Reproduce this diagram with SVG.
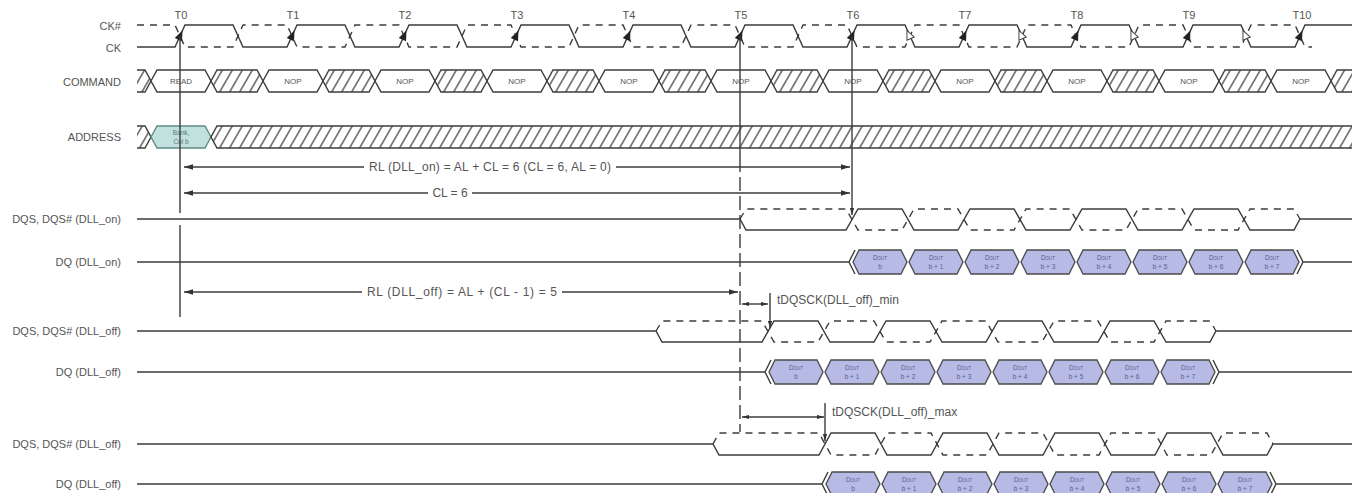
<svg xmlns="http://www.w3.org/2000/svg" xmlns:xlink="http://www.w3.org/1999/xlink" width="1357" height="493" viewBox="0 0 1357 493">
<style>
.ln{stroke:#3c3c3c;stroke-width:1.4;fill:none}
.dash{stroke-dasharray:7 6}
.vdash{stroke-dasharray:14 5}
.t{font-family:"Liberation Sans",Arial,sans-serif;fill:#555}
.lbl{font-size:11px;text-anchor:end}
.tl{font-size:11px;text-anchor:middle}
.bt{font-size:8px;text-anchor:middle}
.dim{font-size:12px}
.box{fill:#fff;stroke:#3c3c3c;stroke-width:1.4}
.hatch{fill:url(#hatch);stroke:#3c3c3c;stroke-width:1.4}
.hfill{fill:url(#hatch);stroke:none}
.abox{fill:#c2e0dd;stroke:#5f8c88;stroke-width:1.4}
.at{font-size:6.5px;text-anchor:middle;fill:#4e7f7b}
.eye{fill:#b6bae5;stroke:#4a4a4a;stroke-width:1.3}
.et{font-size:6.5px;text-anchor:middle;fill:#5b6090}
.bg{fill:#fff}
</style>
<defs>
<pattern id="hatch" patternUnits="userSpaceOnUse" width="10" height="10" patternTransform="skewX(-30)">
<line x1="5" y1="0" x2="5" y2="10" stroke="#3c3c3c" stroke-width="1.4"/>
</pattern>
<marker id="ah" viewBox="0 0 10 6" refX="10" refY="3" markerWidth="9" markerHeight="6" markerUnits="userSpaceOnUse" orient="auto-start-reverse">
<path d="M0,0 L10,3 L0,6 z" fill="#333"/>
</marker>
<marker id="ahs" viewBox="0 0 10 6" refX="10" refY="3" markerWidth="7" markerHeight="5" markerUnits="userSpaceOnUse" orient="auto-start-reverse">
<path d="M0,0 L10,3 L0,6 z" fill="#333"/>
</marker>
<polygon id="cbox" class="box" points="0,0 6,-11 54,-11 60,0 54,11 6,11"/>
<polygon id="hbox" class="hatch" points="0,0 6,-11 46,-11 52,0 46,11 6,11"/>
<polygon id="eye" class="eye" points="1,0 7,-12 49,-12 55,0 49,12 7,12"/>
<path id="tb" d="M0,-6 L4,4 L-4,4 Z" fill="#222"/>
<path id="tw" d="M0,-5 L4,4 L-4,4 Z" fill="#fff" stroke="#444" stroke-width="1"/>
</defs>
<rect width="1357" height="493" fill="#fff"/>

<g id="labels">
<text class="t lbl" x="121" y="30">CK#</text>
<text class="t lbl" x="121" y="52">CK</text>
<text class="t lbl" x="121" y="86">COMMAND</text>
<text class="t lbl" x="121" y="141">ADDRESS</text>
<text class="t lbl" x="121" y="223">DQS, DQS# (DLL_on)</text>
<text class="t lbl" x="121" y="266">DQ (DLL_on)</text>
<text class="t lbl" x="121" y="335">DQS, DQS# (DLL_off)</text>
<text class="t lbl" x="121" y="376">DQ (DLL_off)</text>
<text class="t lbl" x="121" y="448">DQS, DQS# (DLL_off)</text>
<text class="t lbl" x="121" y="488">DQ (DLL_off)</text>
</g>

<g id="clock">
<text class="t tl" x="181" y="19">T0</text>
<text class="t tl" x="293" y="19">T1</text>
<text class="t tl" x="405" y="19">T2</text>
<text class="t tl" x="517" y="19">T3</text>
<text class="t tl" x="629" y="19">T4</text>
<text class="t tl" x="741" y="19">T5</text>
<text class="t tl" x="853" y="19">T6</text>
<text class="t tl" x="965" y="19">T7</text>
<text class="t tl" x="1077" y="19">T8</text>
<text class="t tl" x="1189" y="19">T9</text>
<text class="t tl" x="1302" y="19">T10</text>
<path class="ln" d="M137,47 H175 L185,25 H233 L243,47 H287 L297,25 H345 L355,47 H399 L409,25 H457 L467,47 H511 L521,25 H569 L579,47 H623 L633,25 H681 L691,47 H735 L745,25 H793 L803,47 H847 L857,25 H905 L915,47 H959 L969,25 H1017 L1027,47 H1071 L1081,25 H1129 L1139,47 H1183 L1193,25 H1241 L1251,47 H1295 L1305,25 H1352"/>
<path class="ln dash" d="M137,25 H175 L185,47 H233 L243,25 H287 L297,47 H345 L355,25 H399 L409,47 H457 L467,25 H511 L521,47 H569 L579,25 H623 L633,47 H681 L691,25 H735 L745,47 H793 L803,25 H847 L857,47 H905 L915,25 H959 L969,47 H1017 L1027,25 H1071 L1081,47 H1129 L1139,25 H1183 L1193,47 H1241 L1251,25 H1295 L1305,47 H1312"/>
<use href="#tb" transform="translate(180,36) rotate(24)"/>
<use href="#tb" transform="translate(292,36) rotate(24)"/>
<use href="#tb" transform="translate(404,36) rotate(24)"/>
<use href="#tb" transform="translate(516,36) rotate(24)"/>
<use href="#tb" transform="translate(628,36) rotate(24)"/>
<use href="#tb" transform="translate(740,36) rotate(24)"/>
<use href="#tb" transform="translate(852,36) rotate(24)"/>
<use href="#tb" transform="translate(964,36) rotate(24)"/>
<use href="#tb" transform="translate(1076,36) rotate(24)"/>
<use href="#tb" transform="translate(1188,36) rotate(24)"/>
<use href="#tb" transform="translate(1300,36) rotate(24)"/>
<use href="#tw" transform="translate(909,35) rotate(-24)"/>
<use href="#tw" transform="translate(1021,35) rotate(-24)"/>
<use href="#tw" transform="translate(1133,35) rotate(-24)"/>
<use href="#tw" transform="translate(1245,35) rotate(-24)"/>
</g>

<g id="command">
<polygon class="hfill" points="137,70 145,70 151,81 145,92 137,92"/>
<path class="ln" d="M137,70 H145 L151,81 L145,92 H137"/>
<use href="#cbox" x="151" y="81"/>
<use href="#hbox" x="211" y="81"/>
<use href="#cbox" x="263" y="81"/>
<use href="#hbox" x="323" y="81"/>
<use href="#cbox" x="375" y="81"/>
<use href="#hbox" x="435" y="81"/>
<use href="#cbox" x="487" y="81"/>
<use href="#hbox" x="547" y="81"/>
<use href="#cbox" x="599" y="81"/>
<use href="#hbox" x="659" y="81"/>
<use href="#cbox" x="711" y="81"/>
<use href="#hbox" x="771" y="81"/>
<use href="#cbox" x="823" y="81"/>
<use href="#hbox" x="883" y="81"/>
<use href="#cbox" x="935" y="81"/>
<use href="#hbox" x="995" y="81"/>
<use href="#cbox" x="1047" y="81"/>
<use href="#hbox" x="1107" y="81"/>
<use href="#cbox" x="1159" y="81"/>
<use href="#hbox" x="1219" y="81"/>
<use href="#cbox" x="1271" y="81"/>
<polygon class="hfill" points="1331,81 1337,70 1352,70 1352,92 1337,92"/>
<path class="ln" d="M1352,70 H1337 L1331,81 L1337,92 H1352"/>
<text class="t bt" x="181" y="84">READ</text>
<text class="t bt" x="293" y="84">NOP</text>
<text class="t bt" x="405" y="84">NOP</text>
<text class="t bt" x="517" y="84">NOP</text>
<text class="t bt" x="629" y="84">NOP</text>
<text class="t bt" x="741" y="84">NOP</text>
<text class="t bt" x="853" y="84">NOP</text>
<text class="t bt" x="965" y="84">NOP</text>
<text class="t bt" x="1077" y="84">NOP</text>
<text class="t bt" x="1189" y="84">NOP</text>
<text class="t bt" x="1301" y="84">NOP</text>
</g>

<g id="address">
<polygon class="hfill" points="137,126 145,126 151,137 145,148 137,148"/>
<path class="ln" d="M137,126 H145 L151,137 L145,148 H137"/>
<polygon class="abox" points="151,137 157,126 205,126 211,137 205,148 157,148"/>
<text class="t at" x="181" y="135">Bank,</text>
<text class="t at" x="181" y="144">Col b</text>
<polygon class="hfill" points="211,137 217,126 1352,126 1352,148 217,148"/>
<path class="ln" d="M1352,126 H217 L211,137 L217,148 H1352"/>
</g>

<g id="dqs-dll-on">
<path class="ln" d="M137,219 H740 L746,230 H846 L858,209 H902 L914,230 H958 L970,209 H1014 L1026,230 H1070 L1082,209 H1126 L1138,230 H1182 L1194,209 H1238 L1250,230 H1294 L1300,219 H1352"/>
<path class="ln dash" d="M740,219 L746,209 H846 L858,230 H902 L914,209 H958 L970,230 H1014 L1026,209 H1070 L1082,230 H1126 L1138,209 H1182 L1194,230 H1238 L1250,209 H1294 L1300,219"/>
</g>

<g id="dq-dll-on">
<path class="ln" d="M137,262 H849 M855,250 L849,262 L855,274 M1297,250 L1303,262 L1297,274 M1303,262 H1352"/>
<use href="#eye" x="852" y="262"/>
<use href="#eye" x="908" y="262"/>
<use href="#eye" x="964" y="262"/>
<use href="#eye" x="1020" y="262"/>
<use href="#eye" x="1076" y="262"/>
<use href="#eye" x="1132" y="262"/>
<use href="#eye" x="1188" y="262"/>
<use href="#eye" x="1244" y="262"/>
<text class="t et" x="880" y="260">D<tspan font-size="4.5">OUT</tspan></text><text class="t et" x="880" y="269">b</text>
<text class="t et" x="936" y="260">D<tspan font-size="4.5">OUT</tspan></text><text class="t et" x="936" y="269">b + 1</text>
<text class="t et" x="992" y="260">D<tspan font-size="4.5">OUT</tspan></text><text class="t et" x="992" y="269">b + 2</text>
<text class="t et" x="1048" y="260">D<tspan font-size="4.5">OUT</tspan></text><text class="t et" x="1048" y="269">b + 3</text>
<text class="t et" x="1104" y="260">D<tspan font-size="4.5">OUT</tspan></text><text class="t et" x="1104" y="269">b + 4</text>
<text class="t et" x="1160" y="260">D<tspan font-size="4.5">OUT</tspan></text><text class="t et" x="1160" y="269">b + 5</text>
<text class="t et" x="1216" y="260">D<tspan font-size="4.5">OUT</tspan></text><text class="t et" x="1216" y="269">b + 6</text>
<text class="t et" x="1272" y="260">D<tspan font-size="4.5">OUT</tspan></text><text class="t et" x="1272" y="269">b + 7</text>
</g>

<g id="dqs-dll-off-min">
<path class="ln" d="M137,331 H656 L662,342 H762 L774,321 H818 L830,342 H874 L886,321 H930 L942,342 H986 L998,321 H1042 L1054,342 H1098 L1110,321 H1154 L1166,342 H1210 L1216,331 H1352"/>
<path class="ln dash" d="M656,331 L662,321 H762 L774,342 H818 L830,321 H874 L886,342 H930 L942,321 H986 L998,342 H1042 L1054,321 H1098 L1110,342 H1154 L1166,321 H1210 L1216,331"/>
</g>

<g id="dq-dll-off-min">
<path class="ln" d="M137,372 H765 M771,360 L765,372 L771,384 M1213,360 L1219,372 L1213,384 M1219,372 H1352"/>
<use href="#eye" x="768" y="372"/>
<use href="#eye" x="824" y="372"/>
<use href="#eye" x="880" y="372"/>
<use href="#eye" x="936" y="372"/>
<use href="#eye" x="992" y="372"/>
<use href="#eye" x="1048" y="372"/>
<use href="#eye" x="1104" y="372"/>
<use href="#eye" x="1160" y="372"/>
<text class="t et" x="796" y="370">D<tspan font-size="4.5">OUT</tspan></text><text class="t et" x="796" y="379">b</text>
<text class="t et" x="852" y="370">D<tspan font-size="4.5">OUT</tspan></text><text class="t et" x="852" y="379">b + 1</text>
<text class="t et" x="908" y="370">D<tspan font-size="4.5">OUT</tspan></text><text class="t et" x="908" y="379">b + 2</text>
<text class="t et" x="964" y="370">D<tspan font-size="4.5">OUT</tspan></text><text class="t et" x="964" y="379">b + 3</text>
<text class="t et" x="1020" y="370">D<tspan font-size="4.5">OUT</tspan></text><text class="t et" x="1020" y="379">b + 4</text>
<text class="t et" x="1076" y="370">D<tspan font-size="4.5">OUT</tspan></text><text class="t et" x="1076" y="379">b + 5</text>
<text class="t et" x="1132" y="370">D<tspan font-size="4.5">OUT</tspan></text><text class="t et" x="1132" y="379">b + 6</text>
<text class="t et" x="1188" y="370">D<tspan font-size="4.5">OUT</tspan></text><text class="t et" x="1188" y="379">b + 7</text>
</g>

<g id="dqs-dll-off-max">
<path class="ln" d="M137,444 H713 L719,455 H819 L831,433 H875 L887,455 H931 L943,433 H987 L999,455 H1043 L1055,433 H1099 L1111,455 H1155 L1167,433 H1211 L1223,455 H1267 L1273,444 H1352"/>
<path class="ln dash" d="M713,444 L719,433 H819 L831,455 H875 L887,433 H931 L943,455 H987 L999,433 H1043 L1055,455 H1099 L1111,433 H1155 L1167,455 H1211 L1223,433 H1267 L1273,444"/>
</g>

<g id="dq-dll-off-max">
<path class="ln" d="M137,484 H822 M828,472 L822,484 L828,496 M1270,472 L1276,484 L1270,496 M1276,484 H1352"/>
<use href="#eye" x="825" y="484"/>
<use href="#eye" x="881" y="484"/>
<use href="#eye" x="937" y="484"/>
<use href="#eye" x="993" y="484"/>
<use href="#eye" x="1049" y="484"/>
<use href="#eye" x="1105" y="484"/>
<use href="#eye" x="1161" y="484"/>
<use href="#eye" x="1217" y="484"/>
<text class="t et" x="853" y="482">D<tspan font-size="4.5">OUT</tspan></text><text class="t et" x="853" y="491">b</text>
<text class="t et" x="909" y="482">D<tspan font-size="4.5">OUT</tspan></text><text class="t et" x="909" y="491">b + 1</text>
<text class="t et" x="965" y="482">D<tspan font-size="4.5">OUT</tspan></text><text class="t et" x="965" y="491">b + 2</text>
<text class="t et" x="1021" y="482">D<tspan font-size="4.5">OUT</tspan></text><text class="t et" x="1021" y="491">b + 3</text>
<text class="t et" x="1077" y="482">D<tspan font-size="4.5">OUT</tspan></text><text class="t et" x="1077" y="491">b + 4</text>
<text class="t et" x="1133" y="482">D<tspan font-size="4.5">OUT</tspan></text><text class="t et" x="1133" y="491">b + 5</text>
<text class="t et" x="1189" y="482">D<tspan font-size="4.5">OUT</tspan></text><text class="t et" x="1189" y="491">b + 6</text>
<text class="t et" x="1245" y="482">D<tspan font-size="4.5">OUT</tspan></text><text class="t et" x="1245" y="491">b + 7</text>
</g>

<g id="connectors">
<path class="ln" d="M180,36 V213 M180,225 V317"/>
<path class="ln" d="M740,36 V158"/>
<path class="ln vdash" d="M740,158 V432"/>
<path class="ln" d="M852,36 V215" marker-end="url(#ahs)"/>
<path class="ln" d="M770,293 V328" marker-end="url(#ahs)"/>
<path class="ln" d="M825,403 V441" marker-end="url(#ahs)"/>
<path class="ln" d="M184,167 H850" marker-start="url(#ah)" marker-end="url(#ah)"/>
<rect class="bg" x="364" y="159" width="252" height="16"/>
<text class="t dim" x="490" y="171" text-anchor="middle" textLength="242" lengthAdjust="spacing">RL (DLL_on) = AL + CL = 6 (CL = 6, AL = 0)</text>
<path class="ln" d="M184,193 H850" marker-start="url(#ah)" marker-end="url(#ah)"/>
<rect class="bg" x="428" y="185" width="44" height="16"/>
<text class="t dim" x="450" y="197" text-anchor="middle">CL = 6</text>
<path class="ln" d="M184,292 H738" marker-start="url(#ah)" marker-end="url(#ah)"/>
<rect class="bg" x="362" y="284" width="200" height="16"/>
<text class="t dim" x="462" y="296" text-anchor="middle" textLength="190" lengthAdjust="spacing">RL (DLL_off) = AL + (CL - 1) = 5</text>
<path class="ln" d="M742,304 H768" marker-start="url(#ahs)" marker-end="url(#ahs)"/>
<text class="t dim" x="777" y="304">tDQSCK(DLL_off)_min</text>
<path class="ln" d="M742,417 H824" marker-start="url(#ahs)" marker-end="url(#ahs)"/>
<text class="t dim" x="832" y="416">tDQSCK(DLL_off)_max</text>
</g>
</svg>
